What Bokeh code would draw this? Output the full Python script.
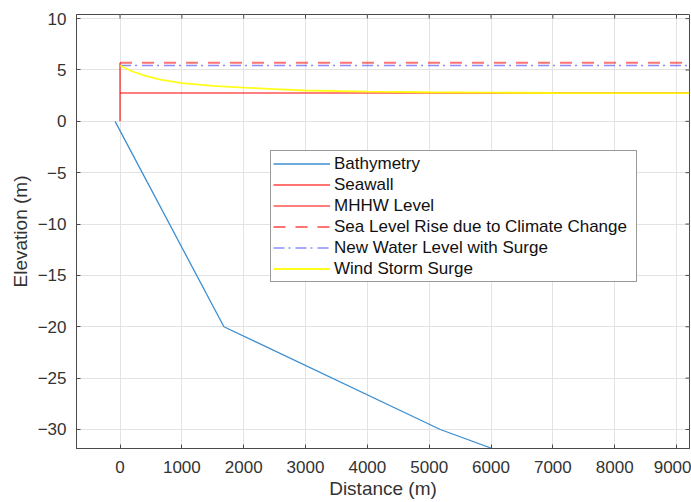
from bokeh.plotting import figure
from bokeh.models import Range1d, FixedTicker, Legend, LegendItem
from bokeh.embed import file_html
from bokeh.resources import INLINE
import math

# ---- data ----
x_ticks = [0, 1000, 2000, 3000, 4000, 5000, 6000, 7000, 8000, 9000]
y_ticks = [-30, -25, -20, -15, -10, -5, 0, 5, 10]

bathy_x = [-80, 1680, 5180, 6020]
bathy_y = [0, -20, -30, -31.85]

seawall_x = [0, 0]
seawall_y = [0, 5.7]

mhhw_x = [0, 9210]
mhhw_y = [2.75, 2.75]

slr_x = [0, 9210]
slr_y = [5.7, 5.7]

surge_level_x = [0, 9210]
surge_level_y = [5.44, 5.44]

wind_x = [0, 200, 400, 650, 1000, 1500, 2000, 2500, 3000, 4000, 5000, 6000, 7000, 8000, 9210]
wind_y = [5.44, 4.85, 4.45, 4.06, 3.72, 3.46, 3.28, 3.14, 3.0, 2.9, 2.83, 2.79, 2.76, 2.75, 2.75]

labels = ["Bathymetry", "Seawall", "MHHW Level", "Sea Level Rise due to Climate Change",
          "New Water Level with Surge", "Wind Storm Surge"]

X0, X1 = -704, 9210
Y0, Y1 = -31.85, 10.4

FONT = "Liberation Sans"
AXC = "#4a4a4a"
TXT = "#333333"

p = figure(width=691, height=502, output_backend="svg", toolbar_location=None,
           x_range=Range1d(X0, X1), y_range=Range1d(Y0, Y1),
           min_border_left=76, min_border_right=2, min_border_top=14, min_border_bottom=54)
p.background_fill_color = "white"
p.outline_line_color = AXC
p.outline_line_width = 1

for ax, ticks in ((p.xaxis[0], x_ticks), (p.yaxis[0], y_ticks)):
    ax.ticker = FixedTicker(ticks=ticks)
    ax.major_tick_in = 4
    ax.major_tick_out = 0
    ax.minor_tick_line_color = None
    ax.axis_line_color = AXC
    ax.major_tick_line_color = AXC
    ax.major_label_text_font = FONT
    ax.major_label_text_font_size = "17px"
    ax.major_label_text_color = TXT
    ax.axis_label_text_font = FONT
    ax.axis_label_text_font_size = "19px"
    ax.axis_label_text_font_style = "normal"
    ax.axis_label_text_color = TXT

p.xaxis[0].axis_label = "Distance (m)"
p.xaxis[0].major_label_standoff = 12
p.xaxis[0].axis_label_standoff = 2
p.yaxis[0].axis_label = "Elevation (m)"
p.yaxis[0].major_label_standoff = 10
p.yaxis[0].axis_label_standoff = 4

p.xgrid.ticker = FixedTicker(ticks=x_ticks)
p.ygrid.ticker = FixedTicker(ticks=y_ticks)
p.grid.grid_line_color = "#e3e3e3"
p.grid.grid_line_width = 1

# inward tick marks on the top and right edges of the box (clipped to the frame)
p.scatter(x=x_ticks, y=[Y1] * len(x_ticks), marker="dash", angle=math.pi / 2, size=8,
          line_color=AXC, line_width=1)
p.scatter(x=[X1] * len(y_ticks), y=y_ticks, marker="dash", size=8, line_color=AXC, line_width=1)

r1 = p.line(bathy_x, bathy_y, line_color="#3d8fd1", line_width=1.3)
r2 = p.line(seawall_x, seawall_y, line_color="red", line_alpha=0.55, line_width=2)
r3 = p.line(mhhw_x, mhhw_y, line_color="red", line_alpha=0.5, line_width=2)
r4 = p.line(slr_x, slr_y, line_color="red", line_alpha=0.55, line_width=2, line_dash="12 10")
r5 = p.line(surge_level_x, surge_level_y, line_color="blue", line_alpha=0.45, line_width=1.5,
            line_dash="11 4 2 5")
r6 = p.line(wind_x, wind_y, line_color="#ffff00", line_alpha=0.9, line_width=1.8)

legend = Legend(items=[LegendItem(label=l, renderers=[r]) for l, r in zip(labels, [r1, r2, r3, r4, r5, r6])],
                location=(194, 166))
legend.label_text_font = FONT
legend.label_text_font_size = "17px"
legend.label_text_color = "#111111"
legend.glyph_width = 57
legend.glyph_height = 21
legend.label_height = 21
legend.label_width = 300
legend.spacing = 0
legend.padding = 2
legend.margin = 0
legend.label_standoff = 4
legend.border_line_color = "#333333"
legend.border_line_width = 1
legend.background_fill_color = "white"
legend.background_fill_alpha = 1
p.add_layout(legend)

open("out.html", "w").write(file_html(p, INLINE))
